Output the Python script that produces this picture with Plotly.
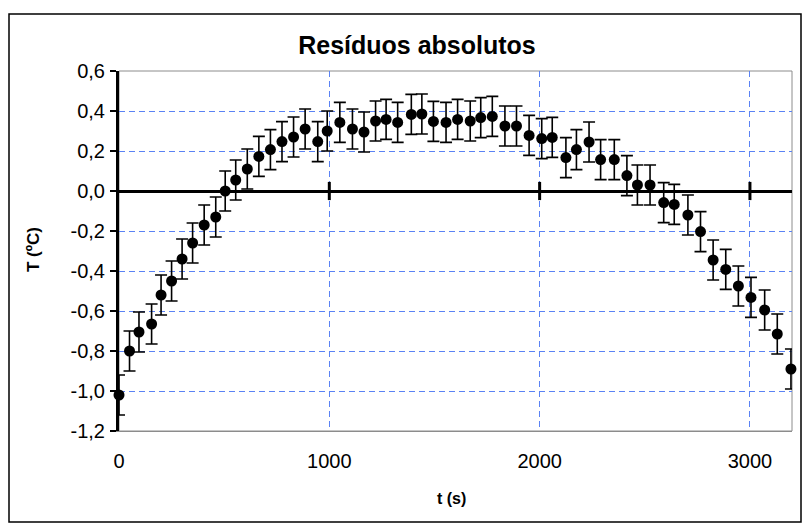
import plotly.graph_objects as go

# Time of each reading (s) and the absolute residual (degC)
t_s = [0, 50, 95, 155, 200, 250, 300, 350, 405, 460,
       505, 555, 610, 665, 720, 775, 830, 885, 945, 990,
       1050, 1110, 1165, 1220, 1270, 1325, 1390, 1440, 1495, 1555,
       1610, 1670, 1720, 1775, 1835, 1890, 1950, 2010, 2060, 2125,
       2175, 2235, 2290, 2355, 2415, 2465, 2525, 2590, 2640, 2705,
       2765, 2825, 2885, 2945, 3005, 3070, 3130, 3195]
residuo = [-1.02, -0.80, -0.705, -0.665, -0.52, -0.45, -0.34, -0.26, -0.17, -0.13,
           0.00, 0.055, 0.11, 0.173, 0.207, 0.247, 0.27, 0.31, 0.247, 0.30,
           0.343, 0.31, 0.295, 0.35, 0.358, 0.343, 0.383, 0.385, 0.348, 0.343,
           0.358, 0.35, 0.367, 0.373, 0.325, 0.325, 0.278, 0.262, 0.268, 0.167,
           0.207, 0.245, 0.157, 0.157, 0.077, 0.03, 0.03, -0.058, -0.067, -0.12,
           -0.203, -0.345, -0.392, -0.475, -0.532, -0.595, -0.715, -0.89]
incerteza = 0.1  # half-width of every error bar (degC)

x_ticks = [0, 1000, 2000, 3000]
x_labels = ["0", "1000", "2000", "3000"]
y_ticks = [0.6, 0.4, 0.2, 0.0, -0.2, -0.4, -0.6, -0.8, -1.0, -1.2]
y_labels = ["0,6", "0,4", "0,2", "0,0", "-0,2", "-0,4", "-0,6", "-0,8", "-1,0", "-1,2"]

W, H = 810, 526
L, R, T, B = 119, 18, 71, 95
PW, PH = W - L - R, H - T - B


def px_x(px):
    return (px - L) / PW


def px_y(py):
    return 1 - (py - T) / PH


FONT = "Liberation Sans, Arial, sans-serif"
GRID = "#5a82f4"

fig = go.Figure()

fig.add_trace(go.Scatter(
    x=t_s, y=residuo, mode="markers",
    marker=dict(color="black", size=11, symbol="circle"),
    error_y=dict(type="constant", value=incerteza, color="black",
                 thickness=1.6, width=6),
    cliponaxis=False, showlegend=False, hoverinfo="x+y",
))

# cross tick marks where the category axis meets y = 0
fig.add_trace(go.Scatter(
    x=x_ticks[1:], y=[0] * len(x_ticks[1:]), mode="markers",
    marker=dict(symbol="line-ns", size=13, line=dict(color="black", width=3)),
    cliponaxis=False, showlegend=False, hoverinfo="skip",
))

fig.update_layout(
    width=W, height=H,
    margin=dict(l=L, r=R, t=T, b=B, pad=0),
    paper_bgcolor="white", plot_bgcolor="white",
    font=dict(family=FONT, color="black"),
    title=dict(text="<b>Resíduos absolutos</b>", font=dict(size=25, family=FONT),
               x=417 / W, xref="container", xanchor="center",
               y=1 - 45 / H, yref="container", yanchor="middle"),
    xaxis=dict(
        range=[0, 3200], tickvals=x_ticks, ticktext=x_labels,
        showgrid=True, gridcolor=GRID, griddash="6px,4px", gridwidth=1,
        zeroline=False, showline=True, linecolor="#8c8c8c", linewidth=1,
        ticks="", tickfont=dict(size=20, family=FONT), ticklabelstandoff=12,
    ),
    yaxis=dict(
        range=[-1.2, 0.6], tickvals=y_ticks, ticktext=y_labels,
        showgrid=True, gridcolor=GRID, griddash="6px,4px", gridwidth=1,
        zeroline=True, zerolinecolor="black", zerolinewidth=3,
        showline=True, linecolor="black", linewidth=3,
        ticks="outside", ticklen=6, tickwidth=2, tickcolor="black",
        tickfont=dict(size=20, family=FONT), ticklabelstandoff=1,
    ),
    shapes=[
        # plot-area border
        dict(type="rect", xref="paper", yref="paper", x0=0, x1=1, y0=0, y1=1,
             line=dict(color="#8c8c8c", width=1), layer="below"),
        # chart frame
        dict(type="rect", xref="paper", yref="paper",
             x0=px_x(9), x1=px_x(801), y0=px_y(522), y1=px_y(14),
             line=dict(color="black", width=1.5), layer="below"),
    ],
    annotations=[
        dict(text="<b>t (s)</b>", xref="paper", yref="paper",
             x=px_x(451), y=px_y(498), xanchor="center", yanchor="middle",
             showarrow=False, font=dict(size=16, family=FONT)),
        dict(text="<b>T (ºC)</b>", xref="paper", yref="paper",
             x=px_x(33), y=px_y(250), xanchor="center", yanchor="middle",
             textangle=-90, showarrow=False, font=dict(size=17, family=FONT)),
    ],
)

fig.write_html("out.html")
